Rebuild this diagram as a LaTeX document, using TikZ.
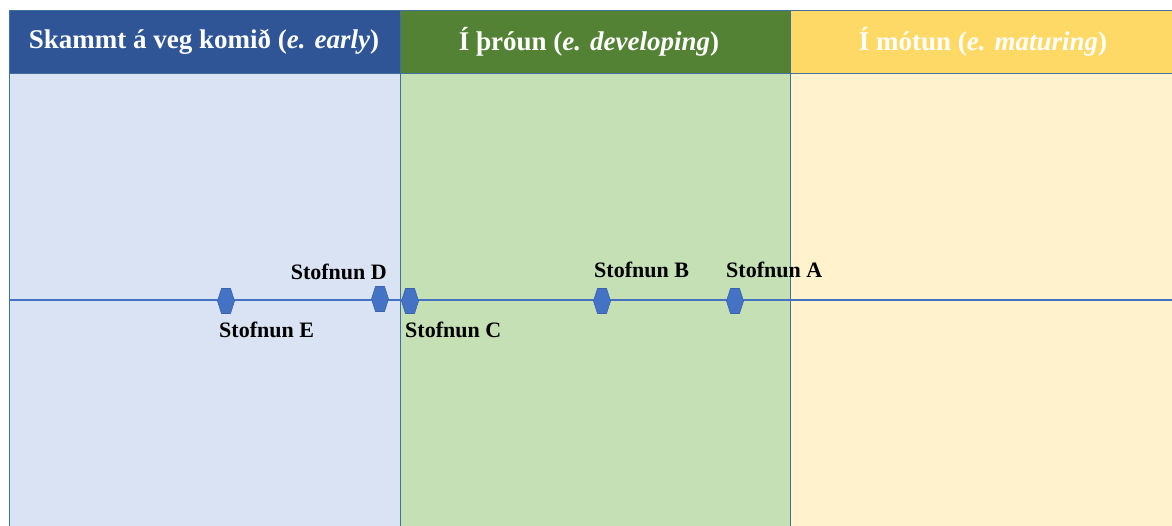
\documentclass[tikz,border=0pt]{standalone}
\usepackage{fontspec}
\setmainfont{Liberation Serif}
\definecolor{hblue}{HTML}{2F5597}
\definecolor{bblue}{HTML}{DAE3F3}
\definecolor{hgreen}{HTML}{548235}
\definecolor{bgreen}{HTML}{C5E0B4}
\definecolor{hyellow}{HTML}{FFD966}
\definecolor{byellow}{HTML}{FFF2CC}
\definecolor{edge}{HTML}{41719C}
\definecolor{mark}{HTML}{4472C4}
\definecolor{markedge}{HTML}{3A62AE}
\tikzset{
  colbox/.style={draw=edge, line width=0.8pt},
  headtext/.style={text=white, font=\bfseries\fontsize{27}{31}\selectfont, inner sep=0pt},
  lbl/.style={font=\bfseries\fontsize{22}{25}\selectfont, inner sep=0pt, text=black},
  axis/.style={draw=mark, line width=2.2pt},
  hexmark/.pic={\draw[fill=mark, draw=markedge, line width=0.6pt]
     (-8.5,0) -- (-4.5,-12.5) -- (4.5,-12.5) -- (8.5,0) -- (4.5,12.5) -- (-4.5,12.5) -- cycle;}
}
\begin{document}
\begin{tikzpicture}[x=1pt,y=-1pt]
\useasboundingbox (0,0) rectangle (1172,526);
\fill[white] (0,0) rectangle (1172,526);
% bodies
\path[colbox, fill=bblue] (9,73) rectangle (400,530);
\path[colbox, fill=bgreen] (400,73) rectangle (790,530);
\path[colbox, fill=byellow] (790,73) rectangle (1176,530);
% headers
\path[colbox, fill=hblue] (9,10) rectangle (400,73);
\path[colbox, fill=hgreen] (400,10) rectangle (790,73);
\path[colbox, fill=hyellow] (790,10) rectangle (1176,73);
\node[headtext] (h1) at (204,42) {Skammt á veg komið (\textit{e. early})};
\node[headtext] (h2) at (589,42) {Í þróun (\textit{e. developing})};
\node[headtext] (h3) at (983,42) {Í mótun (\textit{e. maturing})};
% axis
\coordinate (L) at (9,300);
\coordinate (R) at (1172,300);
\draw[axis] (L) -- (R);
% markers
\coordinate (E) at (226,301);
\coordinate (D) at (380,299);
\coordinate (C) at (410,301);
\coordinate (B) at (602,301);
\coordinate (A) at (735,301);
\foreach \p in {E,D,C,B,A} \pic at (\p) {hexmark};
% labels
\node[lbl, anchor=west] (lE) at (219,330) {Stofnun E};
\node[lbl, anchor=east] (lD) at (387,272) {Stofnun D};
\node[lbl, anchor=west] (lC) at (405,330) {Stofnun C};
\node[lbl, anchor=west] (lB) at (594,270) {Stofnun B};
\node[lbl, anchor=west] (lA) at (726,270) {Stofnun A};
\end{tikzpicture}
\end{document}
